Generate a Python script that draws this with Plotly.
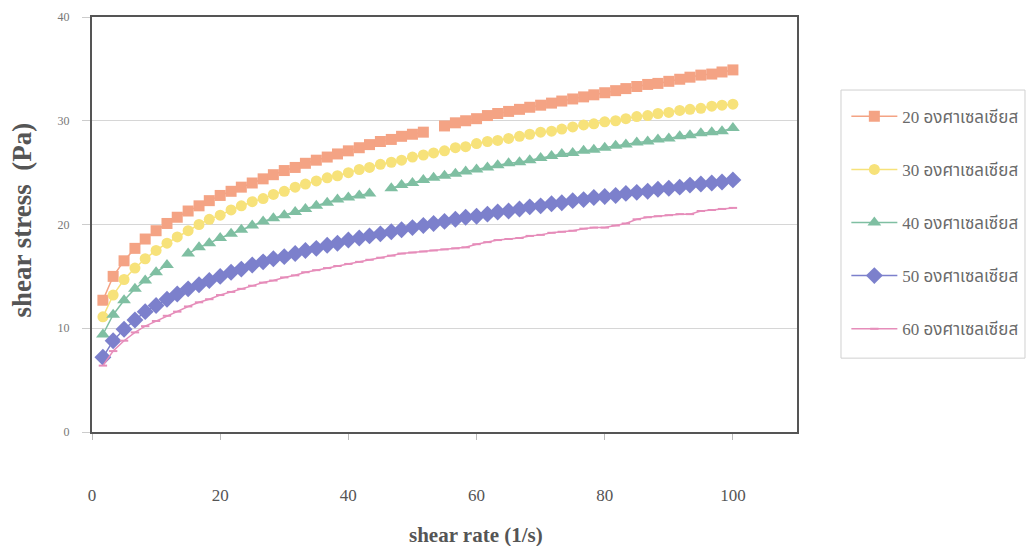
import plotly.graph_objects as go

# Shear rate (1/s) at which each stress reading was taken
shear_rate = [1.7, 3.3, 5.0, 6.7, 8.3, 10.0, 11.7, 13.3, 15.0, 16.7,
              18.3, 20.0, 21.7, 23.3, 25.0, 26.7, 28.3, 30.0, 31.7, 33.3,
              35.0, 36.7, 38.3, 40.0, 41.7, 43.3, 45.0, 46.7, 48.3, 50.0,
              51.7, 53.3, 55.0, 56.7, 58.3, 60.0, 61.7, 63.3, 65.0, 66.7,
              68.3, 70.0, 71.7, 73.3, 75.0, 76.7, 78.3, 80.0, 81.7, 83.3,
              85.0, 86.7, 88.3, 90.0, 91.7, 93.3, 95.0, 96.7, 98.3, 100.0]

# Shear stress (Pa) per temperature; None = missing reading
stress_20 = [12.7, 15.0, 16.5, 17.7, 18.6, 19.4, 20.1, 20.7, 21.3, 21.8,
             22.3, 22.8, 23.2, 23.6, 24.0, 24.4, 24.8, 25.2, 25.5, 25.9,
             26.2, 26.5, 26.8, 27.1, 27.4, 27.7, 28.0, 28.2, 28.5, 28.7,
             28.9, None, 29.5, 29.8, 30.0, 30.2, 30.5, 30.7, 30.9, 31.1,
             31.3, 31.5, 31.7, 31.9, 32.1, 32.3, 32.5, 32.7, 32.9, 33.1,
             33.3, 33.5, 33.6, 33.8, 34.0, 34.2, 34.4, 34.5, 34.7, 34.9]

stress_30 = [11.1, 13.2, 14.7, 15.8, 16.7, 17.5, 18.2, 18.8, 19.4, 20.0,
             20.5, 20.9, 21.4, 21.8, 22.2, 22.5, 22.9, 23.2, 23.6, 23.9,
             24.2, 24.5, 24.7, 25.0, 25.3, 25.5, 25.8, 26.0, 26.2, 26.5,
             26.7, 26.9, 27.1, 27.4, 27.5, 27.8, 28.0, 28.1, 28.3, 28.5,
             28.7, 28.9, 29.0, 29.2, 29.4, 29.6, 29.7, 29.9, 30.0, 30.2,
             30.4, 30.5, 30.7, 30.8, 31.0, 31.1, 31.2, 31.4, 31.5, 31.6]

stress_40 = [9.4, 11.3, 12.7, 13.8, 14.6, 15.4, 16.1, None, 17.2, 17.8,
             18.2, 18.7, 19.1, 19.5, 19.9, 20.3, 20.6, 20.9, 21.2, 21.5,
             21.8, 22.1, 22.4, 22.6, 22.8, 23.0, None, 23.5, 23.8, 24.0,
             24.3, 24.5, 24.7, 24.9, 25.1, 25.3, 25.5, 25.7, 25.9, 26.0,
             26.2, 26.4, 26.6, 26.8, 26.9, 27.1, 27.2, 27.4, 27.6, 27.7,
             27.9, 28.0, 28.2, 28.3, 28.5, 28.6, 28.8, 28.9, 29.0, 29.3]

stress_50 = [7.2, 8.8, 9.9, 10.8, 11.6, 12.2, 12.8, 13.3, 13.8, 14.2,
             14.6, 15.0, 15.4, 15.7, 16.1, 16.4, 16.7, 16.9, 17.2, 17.5,
             17.7, 18.0, 18.2, 18.5, 18.7, 18.9, 19.1, 19.3, 19.5, 19.7,
             19.9, 20.1, 20.3, 20.5, 20.7, 20.8, 21.0, 21.2, 21.3, 21.5,
             21.7, 21.8, 22.0, 22.1, 22.3, 22.4, 22.6, 22.7, 22.8, 23.0,
             23.1, 23.2, 23.4, 23.5, 23.6, 23.8, 23.9, 24.0, 24.1, 24.3]

stress_60 = [6.4, 7.8, 8.8, 9.6, 10.2, 10.7, 11.2, 11.6, 12.1, 12.5,
             12.8, 13.2, 13.5, 13.8, 14.1, 14.4, 14.6, 14.9, 15.1, 15.4,
             15.6, 15.8, 16.0, 16.2, 16.4, 16.6, 16.8, 17.0, 17.2, 17.3,
             17.4, 17.5, 17.6, 17.7, 17.8, 18.1, 18.3, 18.5, 18.6, 18.7,
             18.9, 19.0, 19.2, 19.3, 19.4, 19.6, 19.7, 19.7, 19.9, 20.1,
             20.5, 20.7, 20.8, 20.9, 21.0, 21.0, 21.3, 21.4, 21.5, 21.6]

series_names = ["20 องศาเซลเซียส", "30 องศาเซลเซียส", "40 องศาเซลเซียส",
                "50 องศาเซลเซียส", "60 องศาเซลเซียส"]
series_values = [stress_20, stress_30, stress_40, stress_50, stress_60]
series_colors = ["#F4A384", "#F7E27A", "#7FBFA2", "#7C80CC", "#E68DBA"]
series_symbols = ["square", "circle", "triangle-up", "diamond", "line-ew"]
series_sizes = [11, 11, 12, 13, 6]

SERIF = "Liberation Serif, Times New Roman, serif"
THAI = "Liberation Serif, Noto Sans Thai, Loma, Garuda, Noto Sans, sans-serif"

fig = go.Figure()
for i, (name, ys, col, sym, sz) in enumerate(
        zip(series_names, series_values, series_colors, series_symbols, series_sizes)):
    fig.add_trace(go.Scatter(
        x=shear_rate, y=ys, name=name, mode="lines+markers",
        legendgroup=f"g{i}",
        line=dict(color=col, width=1.5),
        marker=dict(symbol=sym, size=sz, color=col,
                    line=dict(color=col, width=2 if sym == "line-ew" else 0)),
    ))

fig.update_layout(
    width=1028, height=546,
    margin=dict(l=92, r=231, t=17, b=114, autoexpand=False),
    paper_bgcolor="white", plot_bgcolor="white",
    showlegend=True,
    legend=dict(
        x=1.070, y=0.803, xanchor="left", yanchor="top",
        borderwidth=0, bgcolor="rgba(0,0,0,0)",
        font=dict(family=THAI, size=17, color="#6a6a6a"),
        tracegroupgap=28, itemwidth=46,
    ),
    # frame around the legend block
    shapes=[dict(type="rect", xref="paper", yref="paper",
                 x0=1.0624, x1=1.3234, y0=0.178, y1=0.824,
                 line=dict(color="#d0d0d0", width=1), fillcolor="rgba(0,0,0,0)",
                 layer="below")],
    xaxis=dict(
        range=[0, 110], tickvals=[0, 20, 40, 60, 80, 100],
        showgrid=False, zeroline=False,
        showline=True, linecolor="#555555", linewidth=2, mirror=True,
        ticks="outside", ticklen=6, tickcolor="#bbbbbb",
        ticklabelstandoff=41,
        tickfont=dict(family=SERIF, size=17, color="#555555"),
    ),
    yaxis=dict(
        range=[0, 40], tickvals=[0, 10, 20, 30, 40],
        showgrid=True, gridcolor="#d6d6d6", gridwidth=1, zeroline=False,
        showline=True, linecolor="#555555", linewidth=2, mirror=True,
        ticks="outside", ticklen=8, tickcolor="#cccccc",
        ticklabelstandoff=10,
        tickfont=dict(family=SERIF, size=12, color="#777777"),
    ),
    annotations=[
        dict(text="<b>shear rate (1/s)</b>", xref="paper", yref="paper",
             x=0.545, y=-0.248, xanchor="center", yanchor="middle",
             showarrow=False,
             font=dict(family=SERIF, size=21, color="#555555")),
        dict(text="<b>shear stress\u00a0\u00a0(Pa)</b>", xref="paper", yref="paper",
             x=-0.099, y=0.51, xanchor="center", yanchor="middle",
             textangle=-90, showarrow=False,
             font=dict(family=SERIF, size=27, color="#555555")),
    ],
)

fig.write_html("out.html")
